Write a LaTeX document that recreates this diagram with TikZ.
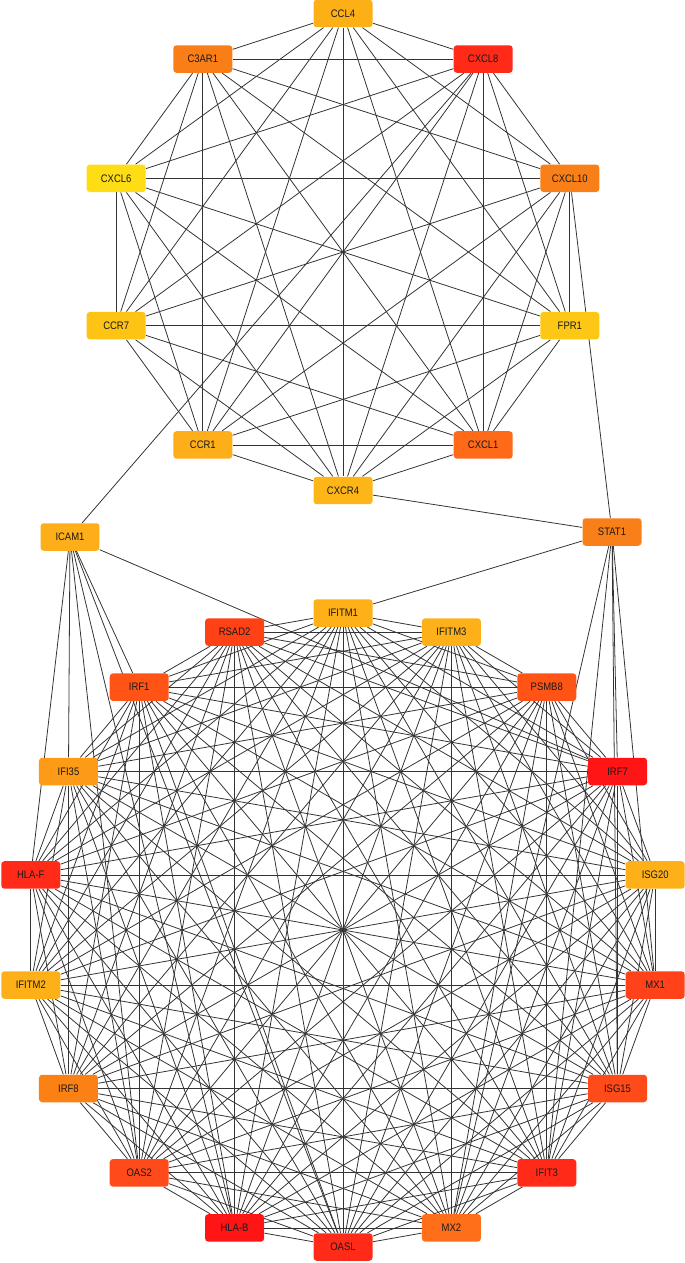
\documentclass[tikz,border=0pt]{standalone}
\usepackage{fontspec}
\newfontfamily\genefont[FakeStretch=0.87]{Liberation Sans}
\usetikzlibrary{backgrounds}

\tikzset{
    gene/.style={rectangle, rounded corners=1.8pt, minimum width=1.18cm, minimum height=0.55cm,
        inner sep=0pt, fill=genefill, text=black!90, font=\genefont\fontsize{6.2}{7}\selectfont},
    wire/.style={draw=black!80, line width=0.45pt}
}

\begin{document}
\begin{tikzpicture}[x=0.02cm, y=-0.02cm]
                \useasboundingbox (0,0) rectangle (685,1263);
                % Upper ring of genes:
                \foreach \g/\a/\c in {CCL4/90/FDB016, C3AR1/126/F97E18, CXCL6/162/FEDD14, CCR7/198/FDC315,
                        CCR1/234/FDAE18, CXCR4/270/FDB518, CXCL1/306/FF6A18, FPR1/342/FDC715,
                        CXCL10/18/F98018, CXCL8/54/FF2A18} {
                    \definecolor{genefill}{HTML}{\c}
                    \node[gene] (\g) at ({343+238.5*cos(\a)}, {252-238.5*sin(\a)}) {\g};
                }
                % Lower ring of genes:
                \foreach \g/\a/\c in {IFITM1/90/FDB018, RSAD2/110/FF4216, IRF1/130/FF5416, IFI35/150/FD9A18,
                        HLA-F/170/FF2A18, IFITM2/190/FDB018, IRF8/210/FC8115, OAS2/230/FF4A1A,
                        HLA-B/250/FF1515, OASL/270/FF2A18, MX2/290/FF6E18, IFIT3/310/FF2A18,
                        ISG15/330/FF4A1A, MX1/350/FF4219, ISG20/10/FDB018, IRF7/30/FF1515,
                        PSMB8/50/FF5416, IFITM3/70/FDB018} {
                    \definecolor{genefill}{HTML}{\c}
                    \node[gene] (\g) at ({343+317*cos(\a)}, {930-317*sin(\a)}) {\g};
                }
                % Linking genes:
                \definecolor{genefill}{HTML}{FDAE18}
                \node[gene] (ICAM1) at (70, 537) {ICAM1};
                \definecolor{genefill}{HTML}{F98018}
                \node[gene] (STAT1) at (612, 532) {STAT1};

                % Wires:
                \begin{scope}[on background layer]
                    \def\upper{CCL4,C3AR1,CXCL6,CCR7,CCR1,CXCR4,CXCL1,FPR1,CXCL10,CXCL8}
                    \def\lower{IFITM1,RSAD2,IRF1,IFI35,HLA-F,IFITM2,IRF8,OAS2,HLA-B,OASL,MX2,IFIT3,ISG15,MX1,ISG20,IRF7,PSMB8,IFITM3}
                    \foreach \u [count=\i] in \upper {
                        \foreach \v [count=\j] in \upper {
                            \ifnum\j>\i \draw[wire] (\u) -- (\v); \fi
                        }
                    }
                    \foreach \u [count=\i] in \lower {
                        \foreach \v [count=\j] in \lower {
                            \ifnum\j>\i \draw[wire] (\u) -- (\v); \fi
                        }
                    }
                    \foreach \v in {CXCL8, IRF1, IFI35, HLA-F, OAS2, HLA-B, OASL, IRF7}
                        \draw[wire] (ICAM1) -- (\v);
                    \foreach \v in {CXCR4, CXCL10, IFITM1, IRF7, ISG15, MX1, IFIT3, MX2}
                        \draw[wire] (STAT1) -- (\v);
                \end{scope}
            \end{tikzpicture}
\end{document}
